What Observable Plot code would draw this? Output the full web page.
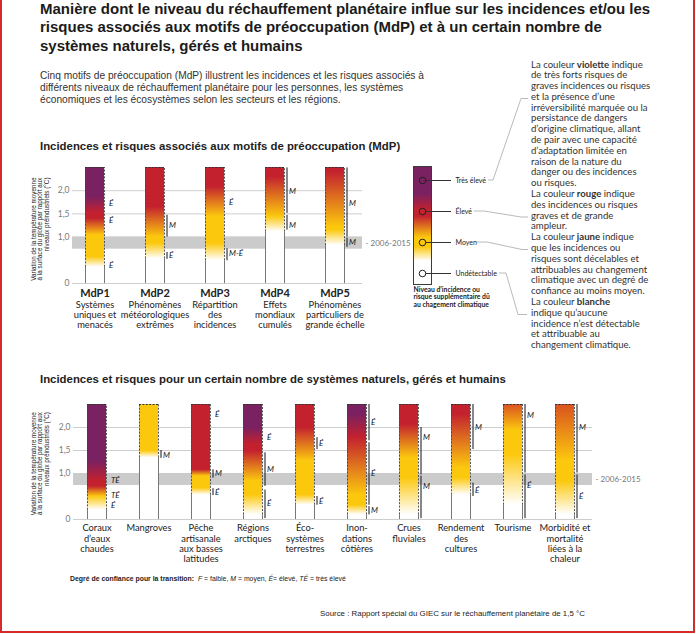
<!DOCTYPE html>
<html><head><meta charset="utf-8">
<script src="https://cdn.jsdelivr.net/npm/d3@7"></script>
<script src="https://cdn.jsdelivr.net/npm/@observablehq/plot@0.6"></script>
<style>
body{margin:0;width:696px;height:634px;position:relative;background:#fff;overflow:hidden;font-family:"Liberation Sans",Arial,sans-serif;color:#222}
.abs{position:absolute;white-space:nowrap}
svg{overflow:visible}
#frame{left:0;top:0;width:691px;height:631px;border-left:2px solid #d42b2b;border-right:2px solid #d42b2b;border-bottom:2px solid #d42b2b}
#title{left:40px;top:0;font-weight:bold;font-size:15px;line-height:18.3px;color:#1b1b1b}
#sub{left:40px;top:70.4px;font-size:10.2px;line-height:11.7px;color:#333}
.ptitle{left:40px;font-weight:bold;font-size:11.4px;line-height:13px;color:#222}
#notes{left:531px;top:59.5px;font-family:Lato,"Open Sans",sans-serif;font-size:9.6px;line-height:10.8px;color:#333}
#foot{left:70px;top:575px;font-size:6.9px;line-height:8px;color:#222}
#src{left:320px;top:608.5px;font-size:7.9px;line-height:9px;color:#222}
</style></head><body>
<div id="frame" class="abs"></div>
<div id="title" class="abs">Manière dont le niveau du réchauffement planétaire influe sur les incidences et/ou les<br>risques associés aux motifs de préoccupation (MdP) et à un certain nombre de<br>systèmes naturels, gérés et humains</div>
<div id="sub" class="abs">Cinq motifs de préoccupation (MdP) illustrent les incidences et les risques associés à<br>différents niveaux de réchauffement planétaire pour les personnes, les systèmes<br>économiques et les écosystèmes selon les secteurs et les régions.</div>
<div class="abs ptitle" style="top:139.5px">Incidences et risques associés aux motifs de préoccupation (MdP)</div>
<div class="abs ptitle" style="top:372.5px">Incidences et risques pour un certain nombre de systèmes naturels, gérés et humains</div>
<div id="notes" class="abs">La couleur <b>violette</b> indique<br>de très forts risques de<br>graves incidences ou risques<br>et la présence d’une<br>irréversibilité marquée ou la<br>persistance de dangers<br>d’origine climatique, allant<br>de pair avec une capacité<br>d’adaptation limitée en<br>raison de la nature du<br>danger ou des incidences<br>ou risques.<br>La couleur <b>rouge</b> indique<br>des incidences ou risques<br>graves et de grande<br>ampleur.<br>La couleur <b>jaune</b> indique<br>que les incidences ou<br>risques sont décelables et<br>attribuables au changement<br>climatique avec un degré de<br>confiance au moins moyen.<br>La couleur <b>blanche</b><br>indique qu’aucune<br>incidence n’est détectable<br>et attribuable au<br>changement climatique.</div>
<svg class="abs" style="left:0;top:0" width="696" height="634">
<g fill="none" stroke="#a8a8a8" stroke-width="0.8">
<polyline points="488,180 493,180 521,98.5 528,98.5"/>
<polyline points="474,211 484,211 521,217 528,217"/>
<polyline points="476,242 487,242 522,249.5 528,249.5"/>
<polyline points="499,273 506,273 518,314.5 527,314.5"/>
</g></svg>
<div id="chart1" class="abs" style="left:0;top:150px"></div>
<div id="legend" class="abs" style="left:400px;top:160px"></div>
<div id="chart2" class="abs" style="left:0;top:390px"></div>
<div id="foot" class="abs"><b>Degré de confiance pour la transition:</b>&nbsp; <i>F</i> = faible, <i>M</i> = moyen, <i>É</i>= élevé, <i>TÉ</i> = très élevé</div>
<div id="src" class="abs">Source : Rapport spécial du GIEC sur le réchauffement planétaire de 1,5 °C</div>
<script>
// ---------- data ----------
const palette = {blanc:"#ffffff", jaune:"#fcc80e", orange:"#d9521f", rouge:"#c3212e", violet:"#7a2161"};
const yTicks = [0, 1.0, 1.5, 2.0];
const band2006 = [0.74, 1.0];
const bandLabel = "- 2006-2015";
const barTop = 2.5;
const yTitle = "Variation de la température moyenne\nà la surface du globe par rapport aux\nniveaux préindustriels (°C)";

const mdpCats = ["MdP1","MdP2","MdP3","MdP4","MdP5"];
const mdpDesc = ["Systèmes\nuniques et\nmenacés","Phénomènes\nmétéorologiques\nextrêmes","Répartition\ndes\nincidences","Effets\nmondiaux\ncumulés","Phénomènes\nparticuliers de\ngrande échelle"];
const mdpStops = [
  [[0.35,"blanc"],[0.57,"jaune"],[1.04,"jaune"],[1.40,"rouge"],[1.51,"rouge"],[1.87,"violet"]],
  [[0.53,"blanc"],[0.86,"jaune"],[1.00,"jaune"],[1.65,"rouge"]],
  [[0.49,"blanc"],[0.86,"jaune"],[1.44,"jaune"],[2.09,"rouge"]],
  [[1.11,"blanc"],[1.44,"jaune"],[2.30,"rouge"]],
  [[0.82,"blanc"],[1.15,"jaune"],[1.22,"jaune"],[2.41,"rouge"]]
];
const mdpSpans = [
  {cat:"MdP2",lo:1.00,hi:1.47},{cat:"MdP2",lo:0.52,hi:0.67},
  {cat:"MdP3",lo:0.49,hi:0.75},
  {cat:"MdP4",lo:1.51,hi:2.49},{cat:"MdP4",lo:1.15,hi:1.47},
  {cat:"MdP5",lo:1.00,hi:2.49},{cat:"MdP5",lo:0.78,hi:0.98}
];
const mdpConf = [
  {cat:"MdP1",v:1.73,t:"É"},{cat:"MdP1",v:1.35,t:"É"},{cat:"MdP1",v:0.39,t:"É"},
  {cat:"MdP2",v:1.25,t:"M"},{cat:"MdP2",v:0.60,t:"É"},
  {cat:"MdP3",v:1.75,t:"É"},{cat:"MdP3",v:0.64,t:"M-É"},
  {cat:"MdP4",v:1.98,t:"M"},{cat:"MdP4",v:1.25,t:"M"},
  {cat:"MdP5",v:1.73,t:"M"},{cat:"MdP5",v:0.89,t:"M"}
];

const sysCats = ["Coraux\nd’eaux\nchaudes","Mangroves","Pêche\nartisanale\naux basses\nlatitudes","Régions\narctiques","Éco-\nsystèmes\nterrestres","Inon-\ndations\ncôtières","Crues\nfluviales","Rendement\ndes\ncultures","Tourisme","Morbidité et\nmortalité\nliées à la\nchaleur"];
const sysStops = [
  [[0.20,"blanc"],[0.50,"jaune"],[0.72,"rouge"],[0.83,"rouge"],[1.27,"violet"]],
  [[1.34,"blanc"],[1.49,"jaune"]],
  [[0.53,"blanc"],[0.68,"jaune"],[0.94,"jaune"],[1.08,"rouge"]],
  [[0.10,"blanc"],[0.53,"jaune"],[0.83,"jaune"],[1.49,"rouge"],[1.63,"rouge"],[2.00,"violet"]],
  [[0.31,"blanc"],[0.53,"jaune"],[1.27,"jaune"],[2.00,"rouge"]],
  [[0.10,"blanc"],[0.31,"jaune"],[0.53,"jaune"],[1.78,"rouge"],[2.29,"violet"]],
  [[0.10,"blanc"],[0.90,"jaune"],[1.34,"jaune"],[2.07,"rouge"]],
  [[0.53,"blanc"],[0.90,"jaune"],[1.12,"jaune"],[2.29,"rouge"]],
  [[0.31,"blanc"],[1.41,"jaune"],[1.93,"jaune"],[2.50,"orange"]],
  [[0.10,"blanc"],[0.83,"jaune"],[1.27,"jaune"],[2.50,"orange"]]
];
const sysSpans = [
  {cat:1,lo:1.33,hi:1.50},
  {cat:2,lo:0.90,hi:1.08},{cat:2,lo:0.52,hi:0.67},
  {cat:3,lo:0.72,hi:1.45},{cat:3,lo:0.02,hi:0.64},
  {cat:4,lo:1.52,hi:1.78},{cat:4,lo:0.31,hi:0.50},
  {cat:5,lo:1.71,hi:2.50},{cat:5,lo:0.31,hi:1.67},{cat:5,lo:0.10,hi:0.28},
  {cat:6,lo:0.97,hi:2.00},{cat:6,lo:0.02,hi:0.94},
  {cat:7,lo:1.52,hi:2.50},{cat:7,lo:0.50,hi:0.79},
  {cat:8,lo:1.01,hi:2.50},{cat:8,lo:0.02,hi:0.97},
  {cat:9,lo:1.01,hi:2.50},{cat:9,lo:0.02,hi:0.97}
];
const sysConf = [
  {cat:0,v:0.86,t:"TÉ"},{cat:0,v:0.53,t:"TÉ"},{cat:0,v:0.31,t:"É"},
  {cat:1,v:1.40,t:"M"},
  {cat:2,v:2.28,t:"É"},{cat:2,v:1.00,t:"M"},{cat:2,v:0.59,t:"É"},
  {cat:3,v:1.78,t:"É"},{cat:3,v:1.08,t:"M"},{cat:3,v:0.34,t:"É"},
  {cat:4,v:1.65,t:"É"},{cat:4,v:0.40,t:"É"},
  {cat:5,v:2.11,t:"É"},{cat:5,v:1.01,t:"É"},{cat:5,v:0.20,t:"M"},
  {cat:6,v:1.78,t:"M"},{cat:6,v:0.71,t:"M"},
  {cat:7,v:2.00,t:"M"},{cat:7,v:0.64,t:"É"},
  {cat:8,v:2.26,t:"M"},{cat:8,v:0.75,t:"É"},
  {cat:9,v:2.00,t:"M"},{cat:9,v:0.50,t:"É"}
];

const levels = ["Très élevé","Élevé","Moyen","Undétectable"];
const legendStops = [[0,"violet"],[0.23,"violet"],[0.37,"rouge"],[0.42,"rouge"],[0.60,"jaune"],[0.68,"jaune"],[0.80,"blanc"],[1,"blanc"]];
const legendNote = "Niveau d’incidence ou\nrisque supplémentaire dû\nau chagement climatique";

// ---------- helpers ----------
const NS = "http://www.w3.org/2000/svg";
const fmt = d => d === 0 ? "0" : d.toFixed(1).replace(".", ",");
function gradientDefs(prefix, stopsList, maxV, upward) {
  return () => {
    const defs = document.createElementNS(NS, "defs");
    stopsList.forEach((stops, i) => {
      const g = document.createElementNS(NS, "linearGradient");
      g.setAttribute("id", prefix + i);
      g.setAttribute("x1", "0"); g.setAttribute("x2", "0");
      g.setAttribute("y1", upward ? "1" : "0"); g.setAttribute("y2", upward ? "0" : "1");
      stops.forEach(([v, c]) => {
        const s = document.createElementNS(NS, "stop");
        s.setAttribute("offset", v / maxV);
        s.setAttribute("stop-color", palette[c]);
        g.appendChild(s);
      });
      defs.appendChild(g);
    });
    return defs;
  };
}
const sansFont = 'Lato, "Open Sans", sans-serif';

function panel(cfg) {
  const base = {
    width: cfg.width, height: cfg.height,
    marginTop: cfg.mt, marginBottom: cfg.mb, marginLeft: cfg.ml, marginRight: cfg.mr,
    x: {type: "band", domain: cfg.cats, paddingInner: cfg.padIn, paddingOuter: cfg.padOut, align: cfg.align, axis: null},
    y: {domain: [0, barTop], axis: null},
    style: {fontFamily: sansFont, fontSize: "10px", overflow: "visible", background: "transparent"}
  };
  const probe = Plot.plot({...base, marks: [Plot.barY(cfg.cats, {x: d => d, y: () => barTop})]});
  const bw = probe.scale("x").bandwidth;
  const rows = cfg.cats.map((c, i) => ({cat: c, i, top: barTop, white: cfg.stops[i][0][0]}));
  const spans = cfg.spans.map(s => ({...s, cat: typeof s.cat === "number" ? cfg.cats[s.cat] : s.cat}));
  const conf = cfg.conf.map(s => ({...s, cat: typeof s.cat === "number" ? cfg.cats[s.cat] : s.cat}));
  const marks = [
    gradientDefs(cfg.prefix, cfg.stops, barTop, true),
    Plot.ruleY(yTicks, {y: d => d, stroke: "#c2c2c2", strokeWidth: 0.8}),
    Plot.rect([band2006], {y1: d => d[0], y2: d => d[1], fill: "#cbcbcb"}),
    Plot.text(yTicks, {y: d => d, text: fmt, frameAnchor: "left", dx: -3, textAnchor: "end", fill: "#7a7a7a", fontSize: 8.5}),
    Plot.text([band2006], {y: d => (d[0] + d[1]) / 2, text: () => bandLabel, frameAnchor: "right", dx: 3, textAnchor: "start", fill: "#777", fontSize: 8}),
    ...rows.map(r => Plot.barY([r], {x: "cat", y1: 0, y2: "top", fill: `url(#${cfg.prefix}${r.i})`})),
    Plot.ruleX(rows, {x: "cat", y1: 0, y2: "white", dx: -bw / 2, stroke: "#777", strokeWidth: 1}),
    Plot.ruleX(rows, {x: "cat", y1: 0, y2: "white", dx: bw / 2, stroke: "#777", strokeWidth: 1}),
    Plot.ruleX(rows, {x: "cat", y1: "white", y2: "top", dx: -bw / 2, stroke: "#444", strokeWidth: 0.9, strokeDasharray: "2,1.4"}),
    Plot.ruleX(rows, {x: "cat", y1: "white", y2: "top", dx: bw / 2, stroke: "#444", strokeWidth: 0.9, strokeDasharray: "2,1.4"}),
    Plot.tickY(rows, {x: "cat", y: "top", stroke: "#333", strokeWidth: 1, strokeDasharray: "2,1.4"}),
    Plot.ruleX(spans, {x: "cat", y1: "lo", y2: "hi", dx: bw / 2 + 2.5, stroke: "#111", strokeWidth: 1}),
    Plot.text(conf, {x: "cat", y: "v", text: "t", dx: bw / 2 + 4.5, textAnchor: "start", fontStyle: "italic", fontSize: 8, fill: "#111", fontFamily: sansFont}),
    Plot.text([yTitle], {text: d => d, frameAnchor: "top-left", dx: 39.5 - cfg.ml, dy: cfg.titleDy, rotate: -90, textAnchor: "end", lineAnchor: "middle", fontSize: 6.3, lineHeight: 1.03, fill: "#222", fontFamily: '"Liberation Sans", Arial, sans-serif'})
  ];
  if (cfg.heads) {
    marks.push(Plot.text(cfg.cats, {x: d => d, text: d => d, frameAnchor: "bottom", dy: 6, lineAnchor: "top", fontWeight: "bold", fontSize: 11, fill: "#222"}));
    marks.push(Plot.text(cfg.cats, {x: d => d, text: (d, i) => cfg.heads[i], frameAnchor: "bottom", dy: 17, lineAnchor: "top", fontSize: 9.3, lineHeight: 1.08, fill: "#222"}));
  } else {
    marks.push(Plot.text(cfg.cats, {x: d => d, text: d => d, frameAnchor: "bottom", dy: 4.6, lineAnchor: "top", fontSize: 9.3, lineHeight: 1.1, fill: "#222"}));
  }
  return Plot.plot({...base, marks});
}

document.getElementById("chart1").appendChild(panel({
  cats: mdpCats, heads: mdpDesc, stops: mdpStops, spans: mdpSpans, conf: mdpConf, prefix: "gu",
  width: 410, height: 185, mt: 17, mb: 52, ml: 72, mr: 48,
  padIn: 0.685, padOut: 0.247, align: 0.43, titleDy: 10
}));
document.getElementById("chart2").appendChild(panel({
  cats: sysCats, stops: sysStops, spans: sysSpans, conf: sysConf, prefix: "gl",
  width: 640, height: 178, mt: 14, mb: 49, ml: 73, mr: 48,
  padIn: 0.639, padOut: 0.248, align: 0.42, titleDy: 7.7
}));

document.getElementById("legend").appendChild(Plot.plot({
  width: 130, height: 150, marginTop: 6, marginBottom: 26, marginLeft: 13, marginRight: 99,
  y: {type: "point", domain: levels, padding: 0.4, align: 0.56, axis: null},
  style: {fontFamily: sansFont, fontSize: "10px", overflow: "visible", background: "transparent"},
  marks: [
    gradientDefs("gleg", [legendStops], 1, false),
    Plot.frame({fill: "url(#gleg0)", stroke: "#3a3a3a", strokeWidth: 1}),
    Plot.ruleY(levels, {y: d => d, stroke: "#333", strokeWidth: 1, insetLeft: 12.5, insetRight: -20}),
    Plot.dot(levels, {y: d => d, frameAnchor: "middle", r: 3.3, stroke: "#222", strokeWidth: 1, fill: "none"}),
    Plot.text(levels, {y: d => d, text: d => d, frameAnchor: "right", dx: 24, textAnchor: "start", fontSize: 7, fill: "#222"}),
    Plot.text([legendNote], {text: d => d, frameAnchor: "bottom-left", dy: 2, lineAnchor: "top", textAnchor: "start", fontWeight: "bold", fontSize: 6.8, lineHeight: 1.1, fill: "#222"})
  ]
}));
</script>
</body></html>
